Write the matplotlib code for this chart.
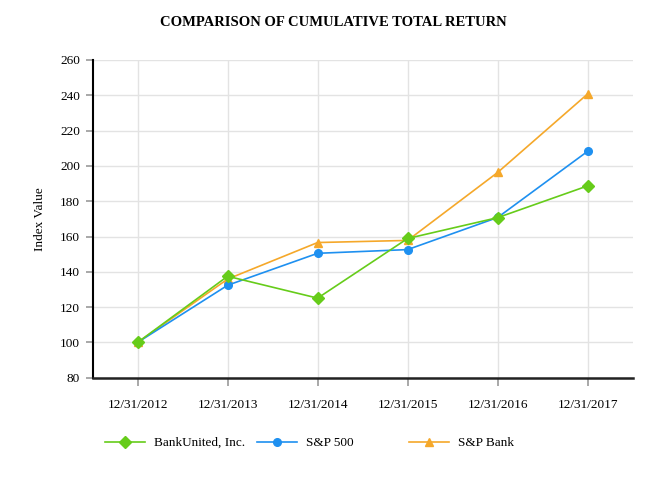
import numpy as np
import matplotlib
matplotlib.use('Agg')
import matplotlib.pyplot as plt

plt.rcParams['font.family'] = ['Liberation Serif', 'DejaVu Serif']

dates = ['12/31/2012', '12/31/2013', '12/31/2014', '12/31/2015', '12/31/2016', '12/31/2017']
bankunited = [100, 137.5, 125.1, 158.9, 170.7, 188.7]
sp500 = [100, 132.4, 150.5, 152.6, 170.8, 208.3]
sp_bank = [100, 135.9, 156.6, 157.8, 196.3, 240.8]

C_GREEN = '#66CC1A'
C_BLUE = '#1E90F0'
C_ORANGE = '#F5A82A'

fig = plt.figure(figsize=(6.66, 4.8), dpi=100)
ax = fig.add_axes([0.139, 0.213, 0.811, 0.662])

x = np.arange(len(dates))
l1, = ax.plot(x, bankunited, color=C_GREEN, lw=1.2, marker='D', ms=6, label='BankUnited, Inc.', zorder=5)
l2, = ax.plot(x, sp500, color=C_BLUE, lw=1.2, marker='o', ms=5.5, label='S&P 500', zorder=4)
l3, = ax.plot(x, sp_bank, color=C_ORANGE, lw=1.2, marker='^', ms=5.5, label='S&P Bank', zorder=3)

ax.set_xlim(-0.5, 5.5)
ax.set_ylim(80, 260)
ax.set_yticks(np.arange(80, 261, 20))
ax.set_xticks(x)
ax.set_xticklabels(dates, fontsize=9.5)
ax.tick_params(axis='y', labelsize=9.5, color='#999999', length=5, width=1.2, pad=4)
ax.tick_params(axis='x', color='#999999', length=6, width=1.2, pad=9)

ax.grid(True, color='#E3E3E3', lw=1.0)
ax.set_axisbelow(True)
for s in ['top', 'right']:
    ax.spines[s].set_visible(False)
ax.spines['left'].set_color('black')
ax.spines['left'].set_linewidth(1.5)
ax.spines['bottom'].set_color('#222222')
ax.spines['bottom'].set_linewidth(1.8)

ax.set_ylabel('Index Value', fontsize=9.5, labelpad=10)

fig.text(0.5, 0.953, 'COMPARISON OF CUMULATIVE TOTAL RETURN', ha='center', va='center',
         fontsize=10.5, fontweight='bold')

# legend: three separately placed entries
for line, xpos in zip([l1, l2, l3], [0.158, 0.386, 0.614]):
    leg = fig.legend(handles=[line], loc='center left', bbox_to_anchor=(xpos, 0.077),
                     frameon=False, fontsize=9.5, handlelength=3.0, handletextpad=0.7,
                     borderpad=0, borderaxespad=0)

fig.savefig('out.png', dpi=100)
